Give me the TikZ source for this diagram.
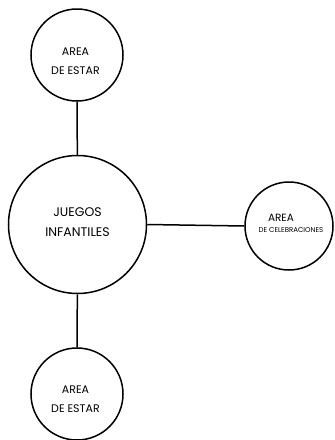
\documentclass[tikz,border=0pt]{standalone}
\usepackage{fontspec}
\setmainfont{Poppins}
\begin{document}
\begin{tikzpicture}[x=1pt,y=-1pt,
  zone/.style={circle,draw=black,line width=1.5pt,inner sep=0pt,align=center,fill=white},
  link/.style={draw=black,line width=1.5pt}]
\useasboundingbox (0,0) rectangle (335,440);
\node[zone,minimum size=92pt] (top) at (77,55) {};
\node[zone,minimum size=138pt] (mid) at (77.5,224.5) {};
\node[zone,minimum size=88pt] (right) at (289,226) {};
\node[zone,minimum size=92pt] (bot) at (77,394) {};
\draw[link] (top) -- (mid);
\draw[link] (mid) -- (bot);
\draw[link] (mid.east) -- (right.west);
\node[font=\fontsize{11}{19}\selectfont,align=center] (ttop) at (75.5,61) {AREA\\DE ESTAR};
\node[font=\fontsize{12.5}{20}\selectfont,align=center] (tmid) at (77.5,222) {JUEGOS\\INFANTILES};
\node[font=\fontsize{10.5}{19}\selectfont,align=center,inner sep=0pt] (tr1) at (281,218) {AREA};
\node[font=\fontsize{7}{8}\selectfont,inner sep=0pt] (tr2) at (291,230.5) {DE CELEBRACIONES};
\node[font=\fontsize{11}{19}\selectfont,align=center] (tbot) at (75.5,399) {AREA\\DE ESTAR};
\end{tikzpicture}
\end{document}
